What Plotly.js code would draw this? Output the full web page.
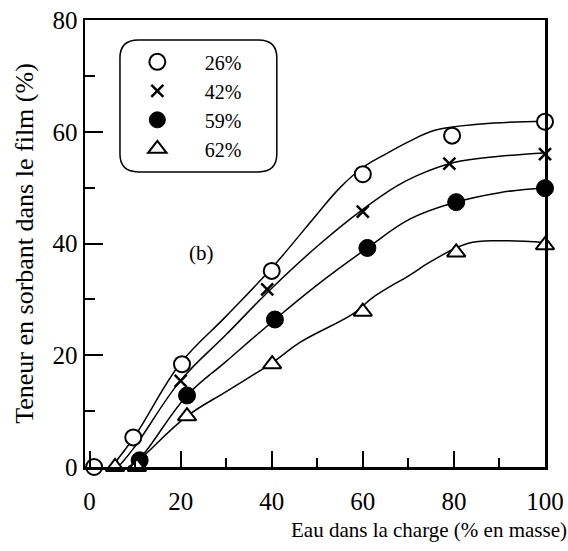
<!DOCTYPE html>
<html>
<head>
<meta charset="utf-8">
<script src="https://cdn.plot.ly/plotly-3.0.1.min.js"></script>
<style>html,body{margin:0;padding:0;background:#fff;}#chart{width:568px;height:551px;}</style>
</head>
<body>
<div id="chart"></div>
<script>
// ---- data (x: water in the feed, % mass; y: sorbent content in film, %) ----
var seriesNames = ["26%", "42%", "59%", "62%"];

// measured points
var x26 = [1, 9.6, 20.3, 40, 60, 79.6, 100];
var y26 = [0, 5.3, 18.4, 35.1, 52.4, 59.3, 61.8];
var x42 = [20, 39, 60, 79, 100];
var y42 = [15.4, 31.8, 45.7, 54.3, 56];
var x59 = [11, 21.4, 40.7, 61, 80.5, 100];
var y59 = [1.2, 12.8, 26.4, 39.2, 47.4, 49.9];
var x62 = [5.6, 10.4, 21.4, 40.1, 60, 80.5, 100];
var y62 = [0, 0, 9.1, 18.4, 27.8, 38.4, 39.7];

// fitted curves
var c26x = [4.8, 10, 20, 30, 40, 50, 55, 60, 65, 70, 76, 86, 100];
var c26y = [0, 5.6, 18.6, 27, 35.6, 45.3, 50, 53.6, 56, 58.2, 60.3, 61.4, 61.9];
var c42x = [6.3, 10, 20, 30, 40, 50, 60, 67.5, 72, 80, 90, 100];
var c42y = [0, 3.7, 15.5, 23.7, 32, 39.5, 46.1, 50.3, 52.2, 54.5, 55.6, 56.2];
var c59x = [8.5, 11, 21.4, 30, 40.7, 50, 61, 70.4, 80, 90, 100];
var c59y = [0, 1.5, 12.8, 18.9, 26.4, 32.6, 39.2, 44.4, 47.3, 49.1, 50];
var c62x = [9.5, 12.6, 21.4, 30, 40, 46.2, 58, 62.3, 70.4, 74.8, 83, 90, 100];
var c62y = [0, 2.5, 9.1, 13.5, 18.6, 22.3, 27.5, 30.4, 34.4, 36.7, 40, 40.5, 40.2];

var xTicks = [0, 20, 40, 60, 80, 100];
var yTicks = [0, 20, 40, 60, 80];
var xTitle = "Eau dans la charge (% en masse)";
var yTitle = "Teneur en sorbant dans le film (%)";
var panelLabel = "(b)";

var FONT = "Liberation Serif";

function curve(x, y) {
  return {x: x, y: y, type: "scatter", mode: "lines", showlegend: false, hoverinfo: "skip",
          line: {color: "black", width: 1.5, shape: "spline", smoothing: 1.1}, cliponaxis: false};
}
function pts(x, y, name, marker, grp) {
  return {x: x, y: y, type: "scatter", mode: "markers", name: name, legendgroup: grp,
          marker: marker, cliponaxis: false};
}

var traces = [
  curve(c26x, c26y), curve(c42x, c42y), curve(c59x, c59y), curve(c62x, c62y),
  pts(x26, y26, seriesNames[0], {symbol: "circle", size: 16, color: "white", line: {color: "black", width: 2}}, "a"),
  pts(x42, y42, seriesNames[1], {symbol: "x-thin-open", size: 12, color: "black", line: {color: "black", width: 2.5}}, "b"),
  pts(x59, y59, seriesNames[2], {symbol: "circle", size: 17, color: "black", line: {color: "black", width: 1}}, "c"),
  pts(x62, y62, seriesNames[3], {symbol: "triangle-up", size: 16, color: "white", line: {color: "black", width: 2}}, "d")
];

// rounded legend frame in paper coordinates
var bx0 = 0.076, bx1 = 0.417, by0 = 0.66, by1 = 0.955, rx = 0.04, ry = 0.04;
var framePath = "M" + (bx0 + rx) + "," + by0 + " L" + (bx1 - rx) + "," + by0 +
  " Q" + bx1 + "," + by0 + " " + bx1 + "," + (by0 + ry) +
  " L" + bx1 + "," + (by1 - ry) + " Q" + bx1 + "," + by1 + " " + (bx1 - rx) + "," + by1 +
  " L" + (bx0 + rx) + "," + by1 + " Q" + bx0 + "," + by1 + " " + bx0 + "," + (by1 - ry) +
  " L" + bx0 + "," + (by0 + ry) + " Q" + bx0 + "," + by0 + " " + (bx0 + rx) + "," + by0 + " Z";

var layout = {
  width: 568, height: 551,
  margin: {l: 85, r: 23, t: 20, b: 84},
  paper_bgcolor: "white", plot_bgcolor: "white",
  font: {family: FONT, color: "black", size: 22},
  showlegend: true,
  legend: {x: 0.054, y: 0.95, xanchor: "left", yanchor: "top", bgcolor: "rgba(0,0,0,0)",
           borderwidth: 0, font: {family: FONT, size: 20}, itemwidth: 85, tracegroupgap: 0},
  xaxis: {range: [-1, 100], tickvals: xTicks, ticks: "inside", ticklen: 16, tickwidth: 2, tickcolor: "black",
          showline: true, linewidth: 2.5, linecolor: "black", mirror: true, showgrid: false, zeroline: false,
          tickfont: {family: FONT, size: 25}, ticklabelstandoff: 10,
          minor: {dtick: 10, ticks: "inside", ticklen: 9, tickwidth: 2, tickcolor: "black", showgrid: false}},
  yaxis: {range: [0, 80], tickvals: yTicks, ticks: "inside", ticklen: 18, tickwidth: 2, tickcolor: "black",
          showline: true, linewidth: 2.5, linecolor: "black", mirror: true, showgrid: false, zeroline: false,
          tickfont: {family: FONT, size: 25}, ticklabelstandoff: 0,
          title: {text: yTitle, font: {family: FONT, size: 26}, standoff: 12},
          minor: {dtick: 10, ticks: "inside", ticklen: 10, tickwidth: 2, tickcolor: "black", showgrid: false}},
  shapes: [{type: "path", xref: "paper", yref: "paper", path: framePath, line: {color: "black", width: 1.5}}],
  annotations: [
    {text: xTitle, xref: "paper", yref: "paper", x: (429 - 85) / 460, y: -(530 - 467) / 447, xanchor: "center", yanchor: "middle",
     showarrow: false, font: {family: FONT, size: 21}},
    {text: panelLabel, xref: "x", yref: "y", x: 24.5, y: 38.3, showarrow: false, font: {family: FONT, size: 21}}
  ]
};

Plotly.newPlot("chart", traces, layout, {displayModeBar: false, staticPlot: true});
</script>
</body>
</html>
